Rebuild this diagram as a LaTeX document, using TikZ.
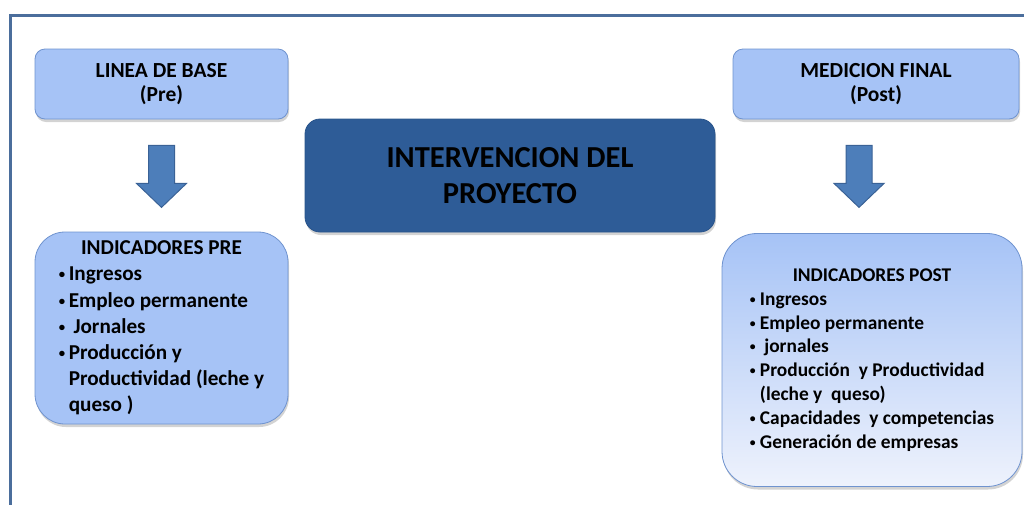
\documentclass[tikz,border=0pt]{standalone}
\usepackage{fontspec}
\setmainfont{Carlito}
\usetikzlibrary{shadows,calc}

\definecolor{framec}{HTML}{4B6E9C}
\definecolor{lightfill}{HTML}{A6C3F6}
\definecolor{lightline}{HTML}{6F93CF}
\definecolor{darkfill}{HTML}{2E5C97}
\definecolor{darkline}{HTML}{29548B}
\definecolor{arrowfill}{HTML}{4D7EBA}
\definecolor{arrowline}{HTML}{3A6296}
\definecolor{fadefill}{HTML}{EEF2FC}

\tikzset{
  boxshadow/.style={drop shadow={shadow xshift=1pt,shadow yshift=-3pt,opacity=0.35}},
  lightbox/.style={rectangle,draw=lightline,fill=lightfill,line width=0.8pt,
    rounded corners=10pt,boxshadow,font=\bfseries,align=center,inner sep=0pt},
  listbox/.style={lightbox,rounded corners=30pt},
  centerbox/.style={rectangle,draw=darkline,fill=darkfill,line width=0.8pt,
    rounded corners=15pt,boxshadow,font=\fontsize{30.5}{36}\selectfont\bfseries,
    align=center,inner sep=0pt},
  blockarrow/.style={draw=arrowline,fill=arrowfill,line width=1pt}
}

\newcommand{\itm}[1]{\makebox[10pt][l]{\raisebox{2pt}{\scalebox{0.6}{\textbullet}}}#1}

\begin{document}
\begin{tikzpicture}[x=1pt,y=-1pt]
  \useasboundingbox (0,0) rectangle (1024,504);
  \begin{scope}
    \clip (0,0) rectangle (1024,504);
    \draw [framec,line width=3pt] (10,15) rectangle (1040,520);
  \end{scope}

  % fases
  \node [lightbox,minimum width=253pt,minimum height=70pt,
    font=\fontsize{21.5}{24}\selectfont\bfseries] (base) at (161.5,84)
    {LINEA DE BASE\\(Pre)};
  \node [lightbox,minimum width=286pt,minimum height=70pt,
    font=\fontsize{21.5}{24}\selectfont\bfseries] (final) at (876,84)
    {MEDICION FINAL\\(Post)};
  \node [centerbox,minimum width=410pt,minimum height=113pt] (interv) at (510,175.5)
    {INTERVENCION DEL\\PROYECTO};

  % indicadores
  \node [listbox,minimum width=253pt,minimum height=192pt,
    font=\fontsize{21.2}{26.2}\selectfont\bfseries] (pre) at (161.5,328)
    {\begin{tabular}{@{}l@{}}
      \multicolumn{1}{c}{INDICADORES PRE}\\
      \itm{Ingresos}\\
      \itm{Empleo permanente}\\
      \itm{ Jornales}\\
      \itm{Producción y}\\
      \hspace*{10pt}Productividad (leche y\\
      \hspace*{10pt}queso )
    \end{tabular}};
  \node [listbox,minimum width=300pt,minimum height=253pt,rounded corners=35pt,
    top color=lightfill,middle color=lightfill!85!fadefill,bottom color=fadefill,
    font=\fontsize{19.4}{23.8}\selectfont\bfseries] (post) at (872,360)
    {\begin{tabular}{@{}l@{}}
      \multicolumn{1}{c}{INDICADORES POST}\\
      \itm{Ingresos}\\
      \itm{Empleo permanente}\\
      \itm{ jornales}\\
      \itm{Producción\ \ y Productividad}\\
      \hspace*{10pt}(leche y\ \ queso)\\
      \itm{Capacidades\ \ y competencias}\\
      \itm{Generación de empresas}
    \end{tabular}};

  % flechas
  \foreach \a/\dx in {base/0,final/-17}
    \draw [blockarrow] ($(\a.south)+(\dx-13,26)$) -- ++(26,0) -- ++(0,38) -- ++(12,0)
      -- ($(\a.south)+(\dx,88)$) -- ($(\a.south)+(\dx-25,64)$) -- ++(12,0) -- cycle;
\end{tikzpicture}
\end{document}
